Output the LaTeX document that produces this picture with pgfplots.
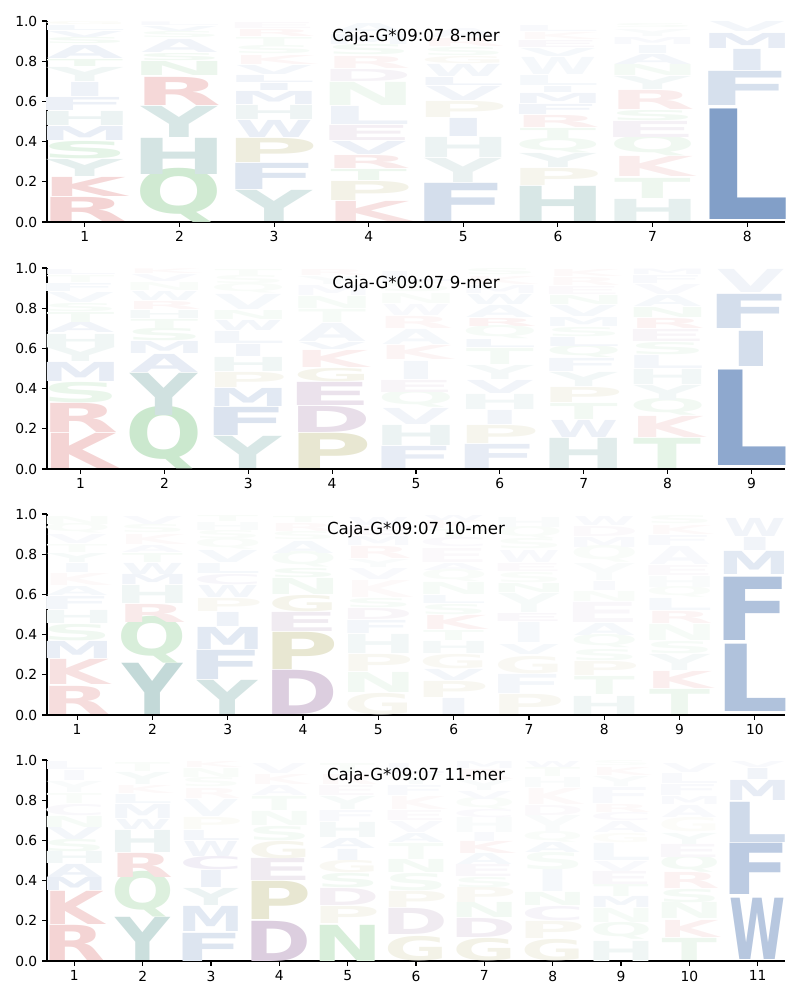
\documentclass[border=0pt]{standalone}
\usepackage{fontspec}
\setmainfont{DejaVu Sans}
\newfontfamily\logofont{DejaVu Sans}
\usepackage{graphicx}
\usepackage{xcolor}
\usepackage{pgfplots}
\usepackage{pgfplotstable}
\pgfplotsset{compat=1.18}

% letter colours (full strength; mixed with white by column a)
\definecolor{cK}{RGB}{200,40,40}
\definecolor{cR}{RGB}{200,40,40}
\definecolor{cQ}{RGB}{40,160,50}
\definecolor{cN}{RGB}{40,160,50}
\definecolor{cS}{RGB}{40,160,50}
\definecolor{cT}{RGB}{40,160,50}
\definecolor{cH}{RGB}{40,120,115}
\definecolor{cY}{RGB}{40,120,115}
\definecolor{cP}{RGB}{150,145,50}
\definecolor{cG}{RGB}{150,145,50}
\definecolor{cD}{RGB}{110,50,120}
\definecolor{cE}{RGB}{110,50,120}
\definecolor{cC}{RGB}{100,70,160}
\definecolor{cL}{RGB}{15,70,150}
\definecolor{cF}{RGB}{15,70,150}
\definecolor{cM}{RGB}{15,70,150}
\definecolor{cI}{RGB}{15,70,150}
\definecolor{cV}{RGB}{15,70,150}
\definecolor{cW}{RGB}{15,70,150}
\definecolor{cA}{RGB}{15,70,150}

% box width of each glyph, in x units, so the ink is about 0.8 wide
\def\wfA{0.81}\def\wfC{0.94}\def\wfD{0.98}\def\wfE{1.05}\def\wfF{1.04}
\def\wfG{0.93}\def\wfH{1.03}\def\wfI{0.57}\def\wfK{0.89}\def\wfL{0.99}
\def\wfM{0.98}\def\wfN{1.03}\def\wfP{1.0}\def\wfQ{0.92}\def\wfR{0.92}
\def\wfS{0.94}\def\wfT{0.81}\def\wfV{0.80}\def\wfW{0.82}\def\wfY{0.80}
% sideways shift, in x units, to centre the ink
\def\xoA{0}\def\xoC{0}\def\xoD{-0.02}\def\xoE{-0.03}\def\xoF{-0.03}
\def\xoG{0}\def\xoH{0}\def\xoI{0}\def\xoK{-0.01}\def\xoL{-0.045}
\def\xoM{0}\def\xoN{0}\def\xoP{-0.02}\def\xoQ{0}\def\xoR{-0.01}
\def\xoS{0}\def\xoT{0}\def\xoV{0}\def\xoW{0}\def\xoY{0}

\newlength\yu \setlength\yu{2.01in}
\newlength\luA \setlength\luA{0.9462in}
\newlength\luB \setlength\luB{0.8386in}
\newlength\luC \setlength\luC{0.7531in}
\newlength\luD \setlength\luD{0.6833in}

% x = position, y = bottom, h = height, l = letter, a = colour strength
\pgfplotstableread{
x y h l a
1 0.000 0.120 R 20
1 0.125 0.095 K 18
1 0.225 0.085 Y 12
1 0.315 0.085 S 12
1 0.405 0.070 M 9
1 0.480 0.070 H 9
1 0.555 0.065 F 8
1 0.625 0.070 I 7
1 0.700 0.070 Y 7
1 0.775 0.035 T 7
1 0.815 0.065 A 7
1 0.885 0.030 S 5
1 0.920 0.030 V 5
1 0.955 0.025 L 4
1 0.982 0.015 G 4
2 0.000 0.225 Q 22
2 0.235 0.180 H 20
2 0.420 0.155 Y 18
2 0.580 0.140 R 18
2 0.730 0.070 N 9
2 0.805 0.035 S 6
2 0.845 0.065 A 6
2 0.915 0.030 S 4
2 0.950 0.025 V 4
2 0.978 0.018 L 3
3 0.000 0.155 Y 18
3 0.160 0.130 F 14
3 0.295 0.120 P 16
3 0.420 0.085 W 9
3 0.510 0.070 H 8
3 0.585 0.065 M 8
3 0.655 0.035 I 7
3 0.695 0.035 L 6
3 0.735 0.045 V 5
3 0.785 0.045 K 4
3 0.835 0.040 S 4
3 0.880 0.040 T 4
3 0.925 0.035 R 4
3 0.965 0.030 E 3
4 0.000 0.100 K 14
4 0.105 0.095 P 12
4 0.205 0.055 T 8
4 0.265 0.065 R 10
4 0.335 0.065 V 8
4 0.405 0.075 E 8
4 0.485 0.090 L 7
4 0.580 0.115 N 7
4 0.700 0.060 D 6
4 0.765 0.060 R 5
4 0.830 0.050 S 5
4 0.885 0.050 M 4
4 0.940 0.050 A 4
5 0.000 0.190 F 18
5 0.195 0.120 Y 10
5 0.320 0.100 H 9
5 0.425 0.090 I 9
5 0.520 0.080 P 8
5 0.605 0.070 V 6
5 0.680 0.040 L 6
5 0.725 0.060 W 5
5 0.790 0.035 G 5
5 0.830 0.040 S 4
5 0.875 0.040 R 4
5 0.920 0.045 A 3
6 0.000 0.175 H 18
6 0.180 0.085 P 9
6 0.270 0.070 Y 8
6 0.345 0.060 Q 6
6 0.410 0.055 T 6
6 0.470 0.060 R 7
6 0.535 0.050 F 6
6 0.590 0.050 M 6
6 0.645 0.030 I 5
6 0.680 0.050 L 4
6 0.735 0.085 W 4
6 0.825 0.040 V 4
6 0.870 0.035 E 4
6 0.910 0.035 K 3
6 0.950 0.030 L 3
7 0.000 0.110 H 12
7 0.115 0.100 T 8
7 0.225 0.100 K 9
7 0.330 0.085 Q 7
7 0.420 0.080 E 7
7 0.505 0.050 S 6
7 0.560 0.095 R 9
7 0.660 0.065 Y 6
7 0.730 0.055 N 5
7 0.785 0.050 A 5
7 0.840 0.040 I 4
7 0.885 0.035 M 3
7 0.925 0.035 Y 3
7 0.965 0.020 S 3
8 0.010 0.550 L 52
8 0.580 0.170 F 17
8 0.755 0.105 I 12
8 0.865 0.075 M 10
8 0.947 0.050 V 5
}\logoA

\pgfplotstableread{
x y h l a
1 0.000 0.175 K 20
1 0.180 0.145 R 18
1 0.330 0.100 S 10
1 0.435 0.095 M 10
1 0.535 0.070 Y 7
1 0.605 0.065 H 7
1 0.680 0.050 A 6
1 0.730 0.050 T 5
1 0.785 0.040 S 4
1 0.830 0.050 V 4
1 0.885 0.040 F 4
1 0.930 0.035 T 3
1 0.970 0.025 L 3
2 0.000 0.260 Q 24
2 0.265 0.210 Y 22
2 0.480 0.090 A 10
2 0.575 0.060 M 7
2 0.640 0.060 S 6
2 0.700 0.045 T 5
2 0.750 0.040 H 5
2 0.795 0.040 R 4
2 0.840 0.045 W 4
2 0.890 0.040 N 3
2 0.935 0.035 V 3
2 0.972 0.023 K 3
3 0.000 0.160 Y 18
3 0.165 0.140 F 15
3 0.310 0.090 M 12
3 0.405 0.075 P 8
3 0.485 0.070 H 7
3 0.560 0.060 I 6
3 0.625 0.060 L 5
3 0.690 0.050 W 5
3 0.745 0.045 N 4
3 0.795 0.075 V 4
3 0.875 0.040 Q 3
3 0.920 0.040 S 3
3 0.965 0.030 T 3
4 0.000 0.175 P 22
4 0.180 0.130 D 16
4 0.315 0.115 E 14
4 0.435 0.065 G 10
4 0.505 0.085 K 8
4 0.595 0.035 V 5
4 0.635 0.090 A 5
4 0.730 0.065 T 4
4 0.800 0.060 N 4
4 0.865 0.050 M 3
4 0.920 0.040 Y 3
4 0.965 0.030 R 3
5 0.000 0.110 F 10
5 0.115 0.100 H 9
5 0.220 0.080 V 6
5 0.305 0.070 Q 5
5 0.380 0.060 E 5
5 0.445 0.090 I 5
5 0.545 0.070 K 5
5 0.620 0.075 A 4
5 0.700 0.060 R 4
5 0.765 0.055 W 3
5 0.825 0.050 N 3
5 0.880 0.050 S 3
5 0.935 0.050 L 3
6 0.000 0.120 F 10
6 0.125 0.090 P 9
6 0.220 0.070 I 6
6 0.295 0.075 H 6
6 0.375 0.065 V 6
6 0.445 0.070 Y 5
6 0.520 0.080 T 5
6 0.605 0.040 L 5
6 0.650 0.055 Q 4
6 0.710 0.040 R 6
6 0.755 0.060 A 4
6 0.820 0.050 W 4
6 0.875 0.040 M 3
6 0.920 0.040 K 3
6 0.965 0.030 S 3
7 0.000 0.150 H 14
7 0.155 0.085 W 8
7 0.245 0.080 T 6
7 0.330 0.075 P 8
7 0.410 0.070 Y 6
7 0.485 0.065 F 5
7 0.555 0.050 Q 5
7 0.610 0.045 L 5
7 0.660 0.045 S 4
7 0.710 0.045 M 4
7 0.760 0.055 V 4
7 0.820 0.045 N 4
7 0.870 0.040 E 3
7 0.915 0.040 R 3
7 0.960 0.035 K 3
8 0.000 0.150 T 12
8 0.155 0.105 K 9
8 0.265 0.070 Q 6
8 0.340 0.075 Y 6
8 0.420 0.075 H 6
8 0.500 0.065 L 5
8 0.570 0.060 S 5
8 0.635 0.060 E 5
8 0.700 0.050 R 6
8 0.755 0.050 N 5
8 0.810 0.055 A 4
8 0.870 0.050 V 3
8 0.925 0.040 F 3
8 0.968 0.027 M 3
9 0.015 0.475 L 47
9 0.510 0.175 I 18
9 0.700 0.170 F 18
9 0.880 0.115 V 6
}\logoB

\pgfplotstableread{
x y h l a
1 0.000 0.140 R 16
1 0.150 0.125 K 14
1 0.280 0.085 M 9
1 0.370 0.080 S 7
1 0.455 0.065 H 6
1 0.525 0.065 F 5
1 0.595 0.045 A 4
1 0.645 0.060 K 3
1 0.710 0.045 I 4
1 0.760 0.045 Y 4
1 0.810 0.040 T 3
1 0.855 0.045 V 3
1 0.905 0.040 Q 3
1 0.950 0.040 N 3
2 0.000 0.255 Y 28
2 0.260 0.195 Q 18
2 0.460 0.090 R 10
2 0.555 0.090 H 7
2 0.650 0.050 M 6
2 0.700 0.055 W 5
2 0.760 0.045 T 4
2 0.810 0.035 A 3
2 0.850 0.050 K 3
2 0.905 0.040 S 3
2 0.950 0.040 V 3
3 0.000 0.170 Y 20
3 0.175 0.145 F 14
3 0.325 0.110 M 12
3 0.440 0.070 I 7
3 0.515 0.065 P 6
3 0.585 0.060 W 5
3 0.650 0.050 C 5
3 0.705 0.050 L 4
3 0.760 0.060 V 4
3 0.825 0.045 Q 3
3 0.875 0.040 S 3
3 0.920 0.040 H 3
3 0.965 0.030 T 3
4 0.000 0.220 D 24
4 0.225 0.185 P 22
4 0.415 0.095 E 10
4 0.515 0.080 G 10
4 0.600 0.080 N 6
4 0.685 0.045 S 5
4 0.735 0.065 Q 4
4 0.805 0.060 A 4
4 0.870 0.040 S 3
4 0.915 0.040 R 3
4 0.960 0.030 T 3
5 0.000 0.105 G 8
5 0.110 0.100 N 6
5 0.215 0.085 P 7
5 0.305 0.095 H 6
5 0.405 0.065 F 5
5 0.475 0.055 D 5
5 0.535 0.045 S 4
5 0.585 0.085 K 3
5 0.675 0.055 V 3
5 0.735 0.040 Y 3
5 0.780 0.060 R 4
5 0.845 0.045 M 3
5 0.895 0.045 E 3
5 0.945 0.040 W 3
6 0.000 0.080 I 6
6 0.085 0.080 P 7
6 0.170 0.055 V 5
6 0.230 0.070 G 6
6 0.305 0.060 H 5
6 0.370 0.050 T 4
6 0.425 0.070 K 6
6 0.500 0.050 S 4
6 0.555 0.040 L 4
6 0.600 0.060 N 4
6 0.665 0.050 Q 3
6 0.720 0.035 A 3
6 0.760 0.070 E 3
6 0.835 0.045 C 3
6 0.885 0.040 T 3
6 0.930 0.040 K 3
6 0.970 0.025 W 3
7 0.000 0.100 P 7
7 0.105 0.095 F 5
7 0.205 0.085 G 6
7 0.300 0.050 V 4
7 0.360 0.100 I 4
7 0.465 0.040 E 4
7 0.510 0.095 Y 4
7 0.610 0.045 N 4
7 0.660 0.050 S 3
7 0.715 0.040 E 3
7 0.760 0.060 W 3
7 0.825 0.050 S 3
7 0.880 0.050 Q 3
7 0.935 0.050 H 3
8 0.000 0.090 H 7
8 0.100 0.090 T 6
8 0.195 0.070 P 6
8 0.270 0.055 S 4
8 0.335 0.055 Q 4
8 0.395 0.060 A 4
8 0.460 0.100 E 4
8 0.565 0.050 N 3
8 0.620 0.045 I 3
8 0.670 0.085 Y 3
8 0.760 0.070 Q 3
8 0.835 0.050 M 3
8 0.890 0.050 D 3
8 0.945 0.045 W 3
9 0.000 0.125 T 8
9 0.130 0.085 K 8
9 0.220 0.080 Y 5
9 0.305 0.060 S 4
9 0.370 0.080 N 4
9 0.455 0.060 R 5
9 0.520 0.060 L 4
9 0.585 0.045 Q 3
9 0.635 0.055 H 3
9 0.695 0.050 E 3
9 0.750 0.090 A 3
9 0.845 0.050 F 3
9 0.900 0.045 K 3
9 0.950 0.040 S 3
10 0.015 0.335 L 33
10 0.370 0.315 F 33
10 0.700 0.115 M 12
10 0.820 0.065 I 6
10 0.890 0.090 W 6
}\logoC

\pgfplotstableread{
x y h l a
1 0.000 0.175 R 20
1 0.180 0.165 K 18
1 0.350 0.065 M 9
1 0.415 0.065 A 7
1 0.485 0.060 H 6
1 0.545 0.060 S 5
1 0.605 0.060 V 5
1 0.665 0.055 N 4
1 0.725 0.055 C 4
1 0.785 0.050 T 3
1 0.840 0.055 Y 3
1 0.900 0.050 I 3
1 0.955 0.040 L 3
2 0.000 0.215 Y 24
2 0.220 0.190 Q 16
2 0.415 0.120 R 14
2 0.540 0.110 H 9
2 0.655 0.050 W 5
2 0.710 0.070 M 5
2 0.785 0.045 L 4
2 0.835 0.040 K 3
2 0.880 0.060 Y 4
2 0.945 0.045 T 3
3 0.000 0.140 F 14
3 0.145 0.125 M 12
3 0.275 0.085 Y 9
3 0.365 0.085 I 8
3 0.455 0.065 C 9
3 0.520 0.075 W 6
3 0.600 0.050 L 5
3 0.655 0.060 P 4
3 0.720 0.085 V 4
3 0.810 0.050 R 3
3 0.865 0.045 S 3
3 0.915 0.045 N 3
3 0.965 0.030 K 3
4 0.000 0.200 D 24
4 0.205 0.190 P 22
4 0.400 0.110 E 10
4 0.510 0.085 G 9
4 0.600 0.070 S 5
4 0.675 0.070 N 4
4 0.750 0.070 T 4
4 0.825 0.050 A 3
4 0.880 0.050 K 3
4 0.935 0.050 V 3
5 0.000 0.180 N 18
5 0.185 0.085 P 8
5 0.275 0.085 D 8
5 0.365 0.070 S 6
5 0.440 0.060 G 6
5 0.500 0.055 I 5
5 0.560 0.050 A 5
5 0.615 0.075 H 5
5 0.695 0.055 F 3
5 0.755 0.065 Y 4
5 0.825 0.050 E 3
5 0.880 0.050 R 3
5 0.935 0.050 T 3
6 0.000 0.120 G 12
6 0.130 0.130 D 10
6 0.265 0.080 P 7
6 0.350 0.085 S 5
6 0.440 0.065 N 5
6 0.505 0.080 T 4
6 0.590 0.045 A 4
6 0.640 0.055 V 3
6 0.700 0.050 E 3
6 0.755 0.065 K 3
6 0.825 0.050 F 3
6 0.880 0.050 Y 3
6 0.935 0.050 L 3
7 0.000 0.110 G 12
7 0.115 0.095 D 9
7 0.215 0.075 N 6
7 0.290 0.075 P 6
7 0.365 0.050 S 4
7 0.420 0.060 E 4
7 0.480 0.055 A 4
7 0.535 0.060 K 5
7 0.595 0.045 I 3
7 0.640 0.075 H 3
7 0.715 0.040 C 3
7 0.755 0.050 Q 3
7 0.805 0.040 V 3
7 0.850 0.050 Y 3
7 0.905 0.050 R 3
7 0.958 0.035 M 3
8 0.000 0.105 G 10
8 0.110 0.085 P 7
8 0.200 0.070 C 6
8 0.275 0.065 N 5
8 0.345 0.110 I 4
8 0.455 0.085 S 4
8 0.540 0.050 A 4
8 0.590 0.045 Q 3
8 0.635 0.090 Y 3
8 0.725 0.050 D 3
8 0.780 0.080 K 3
8 0.865 0.050 H 3
8 0.920 0.045 T 3
8 0.965 0.030 W 3
9 0.000 0.100 H 7
9 0.110 0.070 Q 5
9 0.190 0.070 N 4
9 0.265 0.055 M 5
9 0.320 0.060 T 4
9 0.380 0.065 E 4
9 0.445 0.050 V 3
9 0.500 0.085 L 4
9 0.590 0.045 G 3
9 0.640 0.055 A 3
9 0.700 0.040 C 3
9 0.740 0.040 R 3
9 0.785 0.080 F 3
9 0.870 0.050 Y 3
9 0.925 0.040 K 3
9 0.970 0.025 S 2
10 0.000 0.110 T 8
10 0.115 0.085 K 7
10 0.210 0.080 N 5
10 0.290 0.065 S 5
10 0.360 0.080 R 6
10 0.440 0.070 Q 5
10 0.515 0.065 E 4
10 0.580 0.055 Y 4
10 0.645 0.070 G 3
10 0.715 0.060 A 3
10 0.780 0.040 M 3
10 0.825 0.055 F 3
10 0.885 0.050 L 3
10 0.940 0.045 V 3
11 0.005 0.305 W 30
11 0.330 0.255 F 28
11 0.590 0.200 L 20
11 0.800 0.100 M 10
11 0.905 0.055 I 6
11 0.965 0.030 V 3
}\logoD

\pgfplotsset{
  logopanel/.style={
    scale only axis, width=7.38in, height=2.01in,
    anchor=south west,
    xmin=0.6, xmax=#1+0.4, ymin=0, ymax=1,
    axis x line*=bottom, axis y line*=left,
    axis line style={-, line width=0.8pt},
    tick align=outside, major tick length=3.5pt,
    every tick/.style={black, line width=0.8pt},
    xtick={1,...,#1}, ytick={0,0.2,0.4,0.6,0.8,1},
    tick label style={font=\fontsize{10}{12}\selectfont},
    /pgf/number format/assume math mode=true,
    yticklabel style={/pgf/number format/fixed, /pgf/number format/precision=1,
      /pgf/number format/fixed zerofill},
    title style={at={(0.5,0.88)}, anchor=center, yshift=0pt, font=\fontsize{12}{14}\selectfont},
  },
  letters/.style={
    only marks, mark=none,
    point meta=explicit symbolic,
    visualization depends on={\thisrow{h}\as\lgH},
    visualization depends on={\thisrow{a}\as\lgA},
    nodes near coords={\resizebox{\csname wf\pgfplotspointmeta\endcsname#1}{\lgH\yu}{\textcolor{c\pgfplotspointmeta!\lgA!white}{\logofont\bfseries\pgfplotspointmeta}}},
    every node near coord/.append style={anchor=south, inner sep=0pt, outer sep=0pt,
      xshift=\csname xo\pgfplotspointmeta\endcsname#1},
  },
}

\begin{document}
\begin{tikzpicture}
\useasboundingbox (0,0) rectangle (8in,10in);

\begin{axis}[logopanel=8, at={(0.47in,7.78in)}, title={Caja-G*09:07 8-mer}]
\addplot[letters=\luA] table[x=x, y=y, meta=l] {\logoA};
\end{axis}

\begin{axis}[logopanel=9, at={(0.47in,5.31in)}, title={Caja-G*09:07 9-mer}]
\addplot[letters=\luB] table[x=x, y=y, meta=l] {\logoB};
\end{axis}

\begin{axis}[logopanel=10, at={(0.47in,2.85in)}, title={Caja-G*09:07 10-mer}]
\addplot[letters=\luC] table[x=x, y=y, meta=l] {\logoC};
\end{axis}

\begin{axis}[logopanel=11, at={(0.47in,0.39in)}, title={Caja-G*09:07 11-mer}]
\addplot[letters=\luD] table[x=x, y=y, meta=l] {\logoD};
\end{axis}
\end{tikzpicture}
\end{document}
